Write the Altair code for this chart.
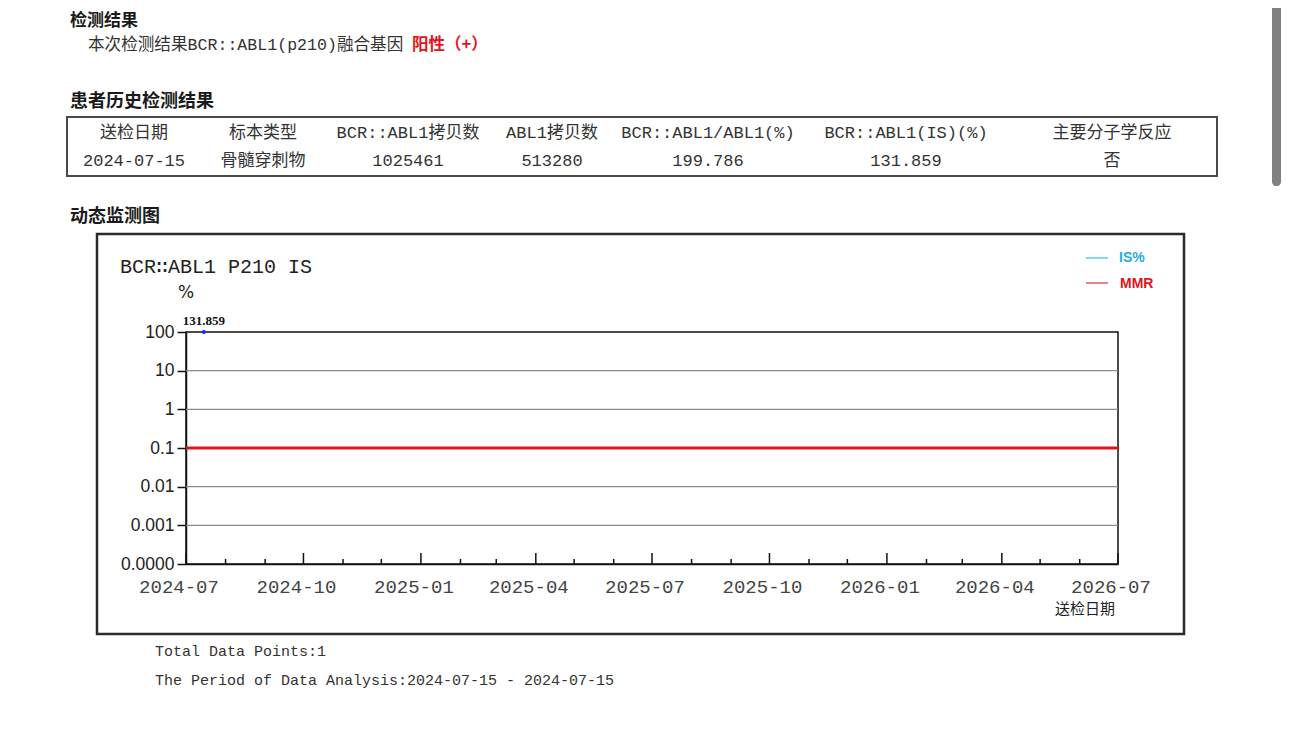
import altair as alt
import pandas as pd

# ---------------- data ----------------
sample_dates = ["2024-07-15"]
is_values = [131.859]
mmr_level = [0.1]
grid_levels = [10, 1, 0.01, 0.001]
ytick_values = [100, 10, 1, 0.1, 0.01, 0.001, 0.0001]
ytick_labels = ["100", "10", "1", "0.1", "0.01", "0.001", "0.0000"]
quarter_months = ["2024-07", "2024-10", "2025-01", "2025-04", "2025-07",
                  "2025-10", "2026-01", "2026-04", "2026-07"]

table_headers = ["送检日期", "标本类型", "BCR::ABL1拷贝数", "ABL1拷贝数",
                 "BCR::ABL1/ABL1(%)", "BCR::ABL1(IS)(%)", "主要分子学反应"]
table_row = ["2024-07-15", "骨髓穿刺物", "1025461", "513280",
             "199.786", "131.859", "否"]

# ---------------- layout helpers ----------------
OX, OY = 186, 332          # page position of plot origin
W, H = 932, 232            # plot area


def px(x):
    return x - OX


def py(y):
    return y - OY


one = pd.DataFrame({"_": [0]})
MONO = "'Liberation Mono', 'DejaVu Sans Mono', 'Noto Sans CJK SC'"
CJK = "'Noto Sans CJK SC'"


def label(text, x, y, size, font=MONO, color="#333", weight="normal",
          align="left", baseline="middle"):
    return alt.Chart(one).mark_text(
        text=text, font=font, fontSize=size, color=color, fontWeight=weight,
        align=align, baseline=baseline
    ).encode(x=alt.value(px(x)), y=alt.value(py(y)))


def box(x1, y1, x2, y2, color, width):
    return alt.Chart(one).mark_rect(
        fillOpacity=0, stroke=color, strokeWidth=width
    ).encode(x=alt.value(px(x1)), x2=alt.value(px(x2)),
             y=alt.value(py(y1)), y2=alt.value(py(y2)))


def seg(x1, x2, y, color, width):
    return alt.Chart(one).mark_rule(color=color, strokeWidth=width).encode(
        x=alt.value(px(x1)), x2=alt.value(px(x2)), y=alt.value(py(y)))


# ---------------- scales / axes ----------------
def dt(s):
    y, m = s.split("-")[:2]
    return alt.DateTime(year=int(y), month=int(m), date=1)


x_scale = alt.Scale(domain=[dt("2024-07"), dt("2026-07")], nice=False)
y_scale = alt.Scale(type="log", domain=[0.0001, 100], clamp=True, nice=False)

label_expr = " : ".join(
    f"datum.value > {v * 0.5} ? '{l}'" for v, l in zip(ytick_values[:-1], ytick_labels[:-1])
) + f" : '{ytick_labels[-1]}'"

x_axis = alt.Axis(values=[dt(q) for q in quarter_months], ticks=False, labels=False,
                  grid=False, domainColor="#111", domainWidth=1.5, title=None)
y_axis = alt.Axis(values=ytick_values, labelExpr=label_expr, tickSize=9,
                  tickColor="#111", tickWidth=1.5, domainColor="#111", domainWidth=1.5,
                  labelFont="Liberation Sans", labelFontSize=17.5, labelColor="#222",
                  labelPadding=3, grid=False, title=None)


def X(field):
    return alt.X(field, type="temporal", scale=x_scale, axis=x_axis)


def Y(field):
    return alt.Y(field, type="quantitative", scale=y_scale, axis=y_axis)


# ---------------- data frames ----------------
df_is = pd.DataFrame({"date": pd.to_datetime(sample_dates), "value": is_values})
df_grid = pd.DataFrame({"level": grid_levels})
df_mmr = pd.DataFrame({"level": mmr_level})
months = pd.date_range(quarter_months[0] + "-01", quarter_months[-1] + "-01", freq="MS")
q_set = set(quarter_months)
df_major = pd.DataFrame({"date": [m for m in months if m.strftime("%Y-%m") in q_set]})
df_minor = pd.DataFrame({"date": [m for m in months if m.strftime("%Y-%m") not in q_set]})

# ---------------- chart layers ----------------
grid = alt.Chart(df_grid).mark_rule(color="#8a8a8a", strokeWidth=1.2).encode(y=Y("level"))
mmr = alt.Chart(df_mmr).mark_rule(color="#e3141c", strokeWidth=3).encode(y=Y("level"))
major_ticks = alt.Chart(df_major).mark_rule(color="#111", strokeWidth=1.5).encode(
    x=X("date"), y=alt.value(H), y2=alt.value(H - 11))
minor_ticks = alt.Chart(df_minor).mark_rule(color="#111", strokeWidth=1.5).encode(
    x=X("date"), y=alt.value(H), y2=alt.value(H - 5))
x_labels = alt.Chart(df_major).mark_text(
    font="'Liberation Mono'", fontSize=19, color="#444", dx=-7,
    baseline="middle", align="center"
).encode(x=X("date"), y=alt.value(py(587)), text=alt.Text("date:T", format="%Y-%m"))
points = alt.Chart(df_is).mark_point(filled=True, size=18, color="#1030ff", opacity=1).encode(
    x=X("date"), y=Y("value"))
point_labels = alt.Chart(df_is).mark_text(
    font="'Liberation Serif'", fontSize=13, fontWeight="bold", color="#111",
    dy=-11, baseline="middle", align="center"
).encode(x=X("date"), y=Y("value"), text=alt.Text("value:Q", format=".3f"))

layers = [
    # page texts
    label("检测结果", 70, 21, 17, font=CJK, color="#1a1a1a", weight="bold"),
    label("本次检测结果BCR::ABL1(p210)融合基因", 88, 45, 16.6),
    label("阳性（+）", 412, 45, 16.5, font=CJK, color="#e3141c", weight="bold"),
    label("患者历史检测结果", 70, 102, 18, font=CJK, color="#1a1a1a", weight="bold"),
    box(67, 117, 1217, 176, "#4a4a4a", 2),
    label("动态监测图", 70, 217, 18, font=CJK, color="#1a1a1a", weight="bold"),
    box(97, 234, 1184, 634, "#2a2a2a", 2.5),
    alt.Chart(one).mark_rect(color="#808080", cornerRadius=4).encode(
        x=alt.value(px(1272)), x2=alt.value(px(1281)),
        y=alt.value(py(0)), y2=alt.value(py(186))),
    # chart decorations
    label("BCR∷ABL1 P210 IS", 120, 267, 20, color="#222"),
    label("%", 186, 293, 17, font="'DejaVu Sans'", color="#222", align="center"),
    seg(1086, 1108, 258, "#5bc8f0", 1.5),
    label("IS%", 1119, 258, 14, font="'Liberation Sans'", color="#2aa8e0", weight="bold"),
    seg(1086, 1108, 283, "#e05a64", 1.5),
    label("MMR", 1120, 284, 14, font="'Liberation Sans'", color="#e3141c", weight="bold"),
    label("送检日期", 1085, 609, 15, font=CJK, color="#222", align="center"),
    label("Total Data Points:1", 155, 651, 15),
    label("The Period of Data Analysis:2024-07-15 - 2024-07-15", 155, 680, 15),
    # plot
    grid, mmr, major_ticks, minor_ticks, x_labels, points, point_labels,
]

col_centers = [134, 263, 408, 552, 708, 906, 1112]
for cx, h, v in zip(col_centers, table_headers, table_row):
    layers.append(label(h, cx, 133, 17, align="center"))
    layers.append(label(v, cx, 161, 17, align="center"))

chart = alt.layer(*layers).properties(
    width=W, height=H,
    autosize=alt.AutoSizeParams(type="none"),
    padding={"left": OX - 8, "top": OY - 8, "right": 1274 - (OX - 8) - W,
             "bottom": 150},
    background="white",
).configure_view(stroke="#111", strokeWidth=1.5)

chart.save("out.html", embed_options={"renderer": "svg", "actions": False})
